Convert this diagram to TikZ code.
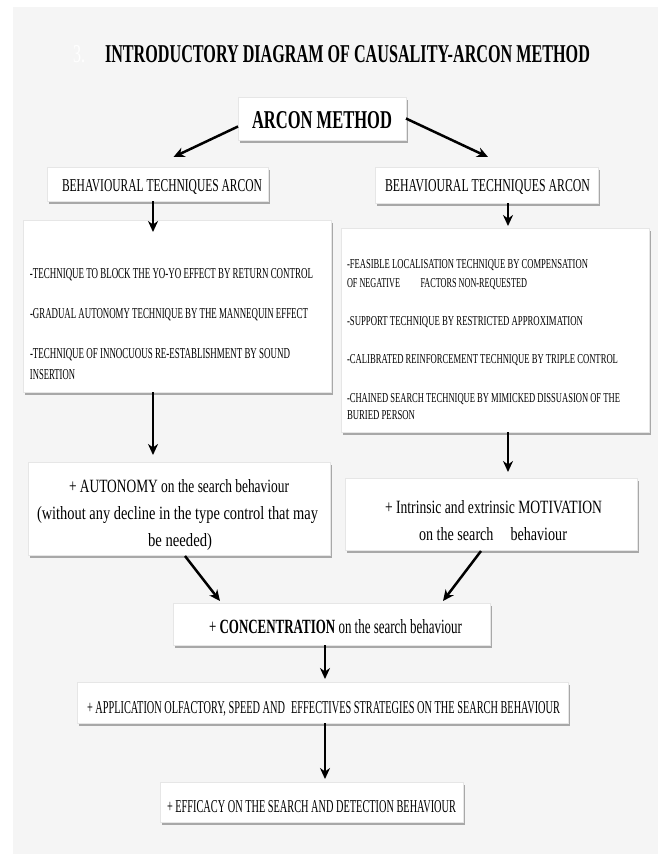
\documentclass[tikz,border=0pt]{standalone}
\usepackage{fontspec}
\setmainfont{Liberation Serif}
\usepackage{graphicx}
\usetikzlibrary{arrows.meta,shadows,calc}
\definecolor{bgc}{HTML}{F5F5F5}
\definecolor{shc}{HTML}{A8A8A8}
\definecolor{edgec}{HTML}{E6E6E6}
\newcommand\tline[6]{\node[anchor=base west,inner sep=0pt,outer sep=0pt] (#1) at (#2,#3) {\resizebox{#4pt}{#5pt}{#6}};}
\tikzset{
  box/.style={draw=edgec, line width=0.5pt, fill=white, inner sep=0pt, outer sep=0pt,
    general shadow={fill=shc, shadow xshift=1.5pt, shadow yshift=-2.5pt}},
  arr/.style={line width=2.5pt, -{Stealth[length=11pt,width=10pt,inset=3.5pt]}}
}
\begin{document}
\begin{tikzpicture}[x=1pt,y=-1pt]
\useasboundingbox (0,0) rectangle (658,854);
\fill[bgc] (13,7) rectangle (658,854);

% title
\tline{tnum}{73}{62}{12}{17}{\color{white}3.}
\tline{title}{105}{62}{485}{17}{\bfseries INTRODUCTORY DIAGRAM OF CAUSALITY-ARCON METHOD}

% boxes
\node[box, minimum width=168pt, minimum height=43pt] (arcon) at (322,118.5) {};
\node[box, minimum width=221pt, minimum height=34pt] (btl) at (157.5,184) {};
\node[box, minimum width=223pt, minimum height=36pt] (btr) at (486.5,185) {};
\node[box, minimum width=308pt, minimum height=172pt] (lbig) at (177,306) {};
\node[box, minimum width=308pt, minimum height=204pt] (rbig) at (495,330) {};
\node[box, minimum width=302pt, minimum height=93pt] (auto) at (179,508.5) {};
\node[box, minimum width=292pt, minimum height=72pt] (moti) at (491,514) {};
\node[box, minimum width=317pt, minimum height=42pt] (conc) at (331.5,624) {};
\node[box, minimum width=491pt, minimum height=41pt] (appl) at (322.5,702.5) {};
\node[box, minimum width=303pt, minimum height=40pt] (effi) at (311.5,802) {};

% texts
\tline{tarcon}{252}{128}{140}{17}{\bfseries ARCON METHOD}
\tline{tbtl}{62}{191}{200}{12}{BEHAVIOURAL TECHNIQUES ARCON}
\tline{tbtr}{385}{191}{205}{12}{BEHAVIOURAL TECHNIQUES ARCON}

\tline{l1}{30}{278}{283}{10}{-TECHNIQUE TO BLOCK THE YO-YO EFFECT BY RETURN CONTROL}
\tline{l2}{30}{318}{278}{10}{-GRADUAL AUTONOMY TECHNIQUE BY THE MANNEQUIN EFFECT}
\tline{l3}{30}{358}{260}{10}{-TECHNIQUE OF INNOCUOUS RE-ESTABLISHMENT BY SOUND}
\tline{l4}{30}{379}{45}{10}{INSERTION}

\tline{r1}{347}{268}{241}{9}{-FEASIBLE LOCALISATION TECHNIQUE BY COMPENSATION}
\tline{r2}{347}{287}{180}{9}{OF NEGATIVE\hspace{2.5em}FACTORS NON-REQUESTED}
\tline{r3}{347}{325}{236}{9}{-SUPPORT TECHNIQUE BY RESTRICTED APPROXIMATION}
\tline{r4}{347}{363}{271}{9}{-CALIBRATED REINFORCEMENT TECHNIQUE BY TRIPLE CONTROL}
\tline{r5}{347}{402}{273}{9}{-CHAINED SEARCH TECHNIQUE BY MIMICKED DISSUASION OF THE}
\tline{r6}{347}{419}{68}{9}{BURIED PERSON}

\tline{a1}{69}{492}{220}{13}{+ AUTONOMY on the search behaviour}
\tline{a2}{37}{519}{281}{13}{(without any decline in the type control that may}
\tline{a3}{148}{546}{64}{13}{be needed)}

\tline{m1}{385}{513}{217}{13}{+ Intrinsic and extrinsic MOTIVATION}
\tline{m2}{419}{540}{148}{13}{on the search\hspace{1.2em}behaviour}

\tline{c1}{209}{633}{253}{14}{+ \textbf{CONCENTRATION} on the search behaviour}
\tline{p1}{87}{713}{473}{12}{+ APPLICATION OLFACTORY, SPEED AND\hspace{0.6em}EFFECTIVES STRATEGIES ON THE SEARCH BEHAVIOUR}
\tline{e1}{167}{812}{289}{12}{+ EFFICACY ON THE SEARCH AND DETECTION BEHAVIOUR}

% arrows
\draw[arr] ($(arcon.west)+(0,8)$) -- ($(btl.north)+(16,-10)$);
\draw[arr] ($(arcon.east)+(0,0)$) -- ($(btr.north)+(1.5,-10)$);
\draw[arr] ($(btl.south)+(-4.5,0)$) -- ($(btl.south)+(-4.5,31)$);
\draw[arr] ($(btr.south)+(21.5,0)$) -- ($(btr.south)+(21.5,23)$);
\draw[arr] ($(lbig.south)+(-24,0)$) -- ($(auto.north)+(-26,-7)$);
\draw[arr] ($(rbig.south)+(13,0)$) -- ($(moti.north)+(17,-6)$);
\draw[arr] ($(auto.south)+(6,1)$) -- ($(conc.north)+(-111.5,-2)$);
\draw[arr] ($(moti.south)+(-10,1)$) -- ($(conc.north)+(111.5,-2)$);
\draw[arr] ($(conc.south)+(-6.5,0)$) -- ($(appl.north)+(2.5,-3)$);
\draw[arr] ($(appl.south)+(2.5,0)$) -- ($(effi.north)+(13.5,-3)$);
\end{tikzpicture}
\end{document}
